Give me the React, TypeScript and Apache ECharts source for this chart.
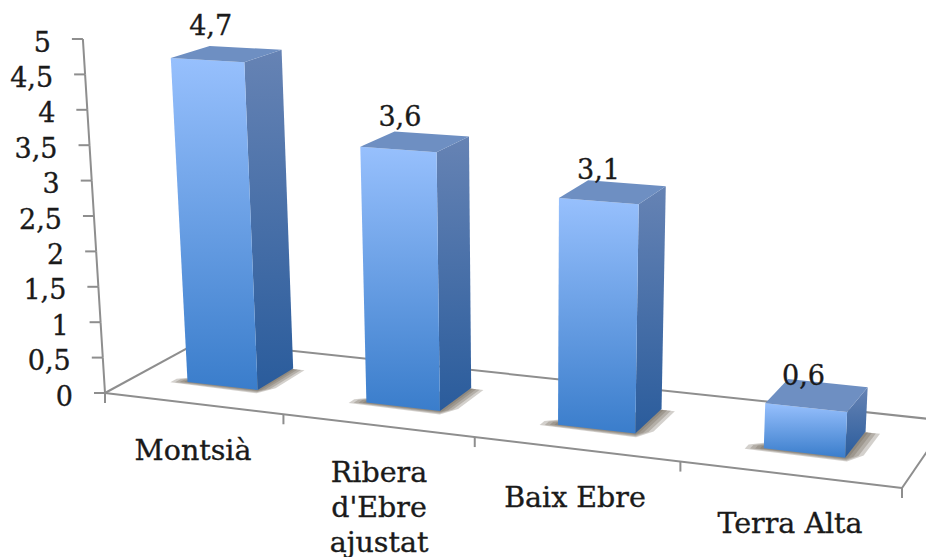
import React, { useEffect, useRef } from "react";
import * as echarts from "echarts";

const categories = ["Montsià", "Ribera\nd'Ebre\najustat", "Baix Ebre", "Terra Alta"];
const values = [4.7, 3.6, 3.1, 0.6];
const valueLabels = ["4,7", "3,6", "3,1", "0,6"];
const yTicks = [0, 0.5, 1, 1.5, 2, 2.5, 3, 3.5, 4, 4.5, 5];
const yTickLabels = ["0", "0,5", "1", "1,5", "2", "2,5", "3", "3,5", "4", "4,5", "5"];
const categoryLabelPos = [[193, 450], [379, 507], [575, 497], [790, 523]];

const W = 926;
const H = 557;
const FONT = '27px "DejaVu Serif"';
const CAT_FONT = '28.5px "DejaVu Serif"';
const INK = "#1a1a1a";
const AXIS = "#8e8e8e";

// floor perspective: unit square -> picture
const a = 675.6, b = 110.7, c = 105, d = 29.3, e = -26.5, f = 393, g = -0.1346, h = 0.0748;
const floor = (u: number, t: number) => {
  const s = u / categories.length;
  const w = g * s + h * t + 1;
  return [(a * s + b * t + c) / w, (d * s + e * t + f) / w];
};
// lift a floor point by a value, using the value axis for the pixel height
const lift = (api: any, u: number, t: number, v: number) => {
  const p = floor(u, t);
  const s = u / categories.length;
  const px = api.coord([0, 0])[1] - api.coord([0, v])[1];
  const k = v === 0 || t === 0 ? 1 : (0.966 + 0.12 * s) * (1.02 - 0.07 * t);
  return [p[0] + (p[0] - 530) * 0.0104 * v, p[1] - px * k];
};

const grad = (top: string, bottom: string) =>
  new echarts.graphic.LinearGradient(0, 0, 0, 1, [
    { offset: 0, color: top },
    { offset: 1, color: bottom },
  ]);

const line = (p: number[], q: number[], width = 2) => ({
  type: "line",
  shape: { x1: p[0], y1: p[1], x2: q[0], y2: q[1] },
  style: { stroke: AXIS, lineWidth: width },
});

const textStyle = (text: string, x: number, y: number, font: string, align: string) => ({
  text,
  x,
  y,
  textAlign: align,
  textVerticalAlign: "middle",
  font,
  fill: INK,
  stroke: INK,
  lineWidth: 0.35,
});

const U0 = 0.3, U1 = 0.7, T0 = 0.31, T1 = 0.71;
const shadowLayers = [1, 0.72, 0.45, 0.2];

export default function App() {
  const ref = useRef<HTMLDivElement>(null);
  useEffect(() => {
    const chart = echarts.init(ref.current!, undefined, { renderer: "svg" });
    chart.setOption({
      animation: false,
      backgroundColor: "#ffffff",
      grid: { left: 105, right: W - 902, top: 39, bottom: H - 393 },
      xAxis: { type: "category", data: categories, show: false },
      yAxis: { type: "value", min: 0, max: 5, interval: 0.5, show: false },
      series: [
        {
          type: "custom",
          silent: true,
          z: 1,
          data: [[0, 0]],
          renderItem: () => {
            const n = categories.length;
            const kids: any[] = [
              line(floor(0, 0), floor(n, 0)),
              line(floor(n, 0), floor(n, 1)),
              line(floor(0, 0), floor(0, 1)),
              line(floor(0, 1), floor(n, 1)),
            ];
            for (let i = 0; i <= n; i++) {
              const p = floor(i, 0);
              kids.push(line(p, [p[0], p[1] + 10]));
            }
            return { type: "group", children: kids };
          },
        },
        {
          type: "custom",
          silent: true,
          z: 2,
          data: yTicks.map((v, i) => [0, v, i]),
          renderItem: (_: any, api: any) => {
            const v = api.value(1);
            const idx = api.value(2);
            const top = lift(api, 0, 0, v);
            const kids: any[] = [
              line([top[0] - 11, top[1]], top),
              {
                type: "text",
                style: textStyle(yTickLabels[idx], top[0] - 32, top[1] + 3, FONT, "right"),
              },
            ];
            if (idx < yTicks.length - 1) {
              kids.push(line(top, lift(api, 0, 0, yTicks[idx + 1])));
            }
            return { type: "group", children: kids };
          },
        },
        {
          type: "custom",
          silent: true,
          z: 3,
          data: values.map((v, i) => [i, v]),
          renderItem: (_: any, api: any) => {
            const i = api.value(0);
            const v = api.value(1);
            const u0 = i + U0, u1 = i + U1 - 0.008 * i;
            const fb0 = floor(u0, T0), fb1 = floor(u1, T0), bb1 = floor(u1, T1);
            const ft0 = lift(api, u0, T0, v), ft1 = lift(api, u1, T0, v);
            const bt1 = lift(api, u1, T1, v), bt0 = lift(api, u0, T1, v);
            const shadows = shadowLayers.map((m) => ({
              type: "polygon",
              shape: {
                points: [
                  floor(u0 - 0.08 * m, T0 + 0.03),
                  floor(u0 - 0.08 * m, T0 - 0.035 * m),
                  floor(u1 + 0.02 * m, T0 - 0.05 * m),
                  floor(u1 + 0.07 * m, T0 + 0.06 * m),
                  floor(u1 + 0.07 * m, T1 - 0.01),
                  floor(u1, T1 - 0.01),
                ],
              },
              style: { fill: "rgba(110,100,85,0.3)" },
            }));
            const c0 = lift(api, i + 0.5, (T0 + T1) / 2, v);
            return {
              type: "group",
              children: [
                ...shadows,
                {
                  type: "polygon",
                  shape: { points: [ft1, bt1, bb1, fb1] },
                  style: { fill: grad("#6683B4", "#2A5C9C") },
                },
                {
                  type: "polygon",
                  shape: { points: [ft0, ft1, fb1, fb0] },
                  style: { fill: grad("#97C0FD", "#3A7DCB") },
                },
                {
                  type: "polygon",
                  shape: { points: [ft0, bt0, bt1, ft1] },
                  style: { fill: "#6E8FC2" },
                },
                {
                  type: "text",
                  z2: 10,
                  style: textStyle(valueLabels[i], c0[0] - 16, c0[1] - 28 + 2.7 * i, FONT, "center"),
                },
              ],
            };
          },
        },
        {
          type: "custom",
          silent: true,
          z: 4,
          data: categories.map((_, i) => [i, 0]),
          renderItem: (_: any, api: any) => {
            const i = api.value(0);
            return {
              type: "text",
              style: {
                ...textStyle(categories[i], categoryLabelPos[i][0], categoryLabelPos[i][1], CAT_FONT, "center"),
                lineHeight: 35,
              },
            };
          },
        },
      ],
    });
    return () => chart.dispose();
  }, []);
  return <div ref={ref} style={{ position: "absolute", left: 0, top: 0, width: W, height: H }} />;
}
